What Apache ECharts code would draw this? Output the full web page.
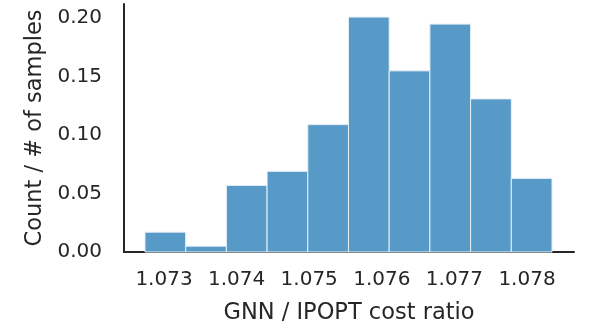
<!DOCTYPE html>
<html>
<head>
    <meta charset="utf-8">
    <style>
        html, body { height: 100%; }
        * { margin: 0; padding: 0; }
        #container { width: 598px; height: 330px; background: #fff; }
    </style>
</head>
<body>
<div id="container"></div>
<script type="text/javascript" src="https://cdn.jsdelivr.net/npm/echarts/dist/echarts.min.js"></script>
<script type="text/javascript">
    // histogram bins (left edge, right edge) and normalised counts
    let binStart = 1.072738;
    let binWidth = 0.0005606;
    let heights = [0.017, 0.005, 0.057, 0.069, 0.109, 0.201, 0.155, 0.195, 0.131, 0.063];
    let xTicks = [1.073, 1.074, 1.075, 1.076, 1.077, 1.078];
    let yTicks = [0, 0.05, 0.10, 0.15, 0.20];

    let data = heights.map(function (h, i) {
        return [binStart + i * binWidth, binStart + (i + 1) * binWidth, h];
    });

    let dom = document.getElementById("container");
    let myChart = echarts.init(dom);
    let font = 'DejaVu Sans';
    let ink = '#262626';

    let option = {
        animation: false,
        grid: { left: 124, right: 24, top: 4, bottom: 78 },
        xAxis: {
            type: 'value',
            min: 1.072449,
            max: 1.078647,
            name: 'GNN / IPOPT cost ratio',
            nameLocation: 'middle',
            nameGap: 50,
            nameTextStyle: { color: ink, fontFamily: font, fontSize: 22.5, lineHeight: 22 },
            axisLine: { show: true, lineStyle: { color: ink, width: 2 } },
            axisTick: { show: false },
            splitLine: { show: false },
            axisLabel: {
                customValues: xTicks,
                color: ink, fontFamily: font, fontSize: 20, lineHeight: 20, margin: 18,
                formatter: function (v) { return v.toFixed(3); }
            }
        },
        yAxis: {
            type: 'value',
            min: 0,
            max: 0.2122,
            name: 'Count / # of samples',
            nameLocation: 'middle',
            nameGap: 76,
            nameTextStyle: { color: ink, fontFamily: font, fontSize: 22.5, lineHeight: 22 },
            axisLine: { show: true, lineStyle: { color: ink, width: 2 } },
            axisTick: { show: false },
            splitLine: { show: false },
            axisLabel: {
                customValues: yTicks,
                color: ink, fontFamily: font, fontSize: 20, margin: 22,
                formatter: function (v) { return v.toFixed(2); }
            }
        },
        series: [{
            type: 'custom',
            data: data,
            encode: { x: [0, 1], y: 2 },
            renderItem: function (params, api) {
                let p0 = api.coord([api.value(0), 0]);
                let p1 = api.coord([api.value(1), api.value(2)]);
                return {
                    type: 'rect',
                    shape: { x: p0[0], y: p1[1], width: p1[0] - p0[0], height: p0[1] - p1[1] },
                    style: { fill: '#5799c7', stroke: '#e8f0f7', lineWidth: 1 }
                };
            }
        }]
    };
    myChart.setOption(option);
</script>
</body>
</html>
